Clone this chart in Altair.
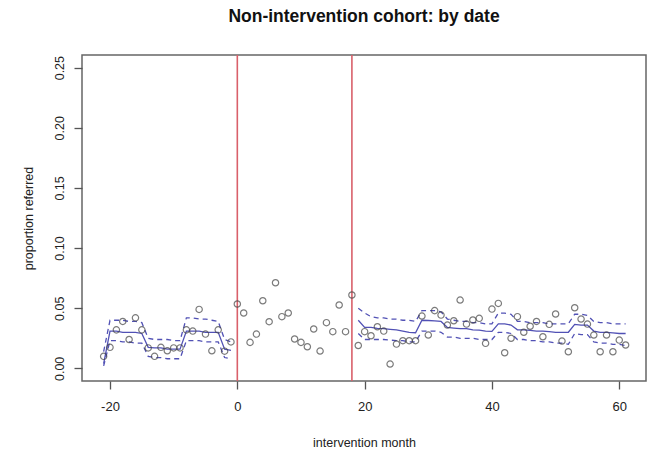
import altair as alt
import pandas as pd

# observed monthly proportions
obs_month = list(range(-21, 62))
obs_value = [
    0.010, 0.0175, 0.032, 0.039, 0.024, 0.042, 0.032, 0.017, 0.010, 0.0175,
    0.0146, 0.017, 0.017, 0.032, 0.031, 0.049, 0.0285, 0.0146, 0.032, 0.0143,
    0.022, 0.0535, 0.046, 0.0216, 0.0285, 0.0562, 0.0388, 0.0712, 0.043, 0.046,
    0.0244, 0.0216, 0.018, 0.0327, 0.0144, 0.038, 0.0305, 0.0527, 0.0305, 0.061,
    0.019, 0.0305, 0.0271, 0.0346, 0.031, 0.0036, 0.0202, 0.023, 0.023, 0.023,
    0.0435, 0.0277, 0.048, 0.0443, 0.036, 0.0396, 0.0568, 0.0368, 0.0402, 0.0416,
    0.0208, 0.0493, 0.054, 0.013, 0.025, 0.043, 0.030, 0.035, 0.039, 0.0263,
    0.0366, 0.0452, 0.0227, 0.0138, 0.0504, 0.041, 0.0368, 0.0277, 0.0138, 0.0277,
    0.0138, 0.0235, 0.0194,
]

# fitted model, pre-intervention
pre_month = list(range(-21, 0))
pre_fit = [0.004, 0.031, 0.031, 0.030, 0.030, 0.030, 0.029, 0.0175, 0.017, 0.017,
           0.016, 0.016, 0.016, 0.031, 0.031, 0.031, 0.030, 0.030, 0.030, 0.016, 0.015]
pre_upper = [0.014, 0.040, 0.040, 0.040, 0.039, 0.039, 0.038, 0.025, 0.024, 0.024,
             0.024, 0.023, 0.023, 0.042, 0.042, 0.041, 0.041, 0.040, 0.039, 0.024, 0.022]
pre_lower = [0.002, 0.023, 0.023, 0.022, 0.022, 0.021, 0.021, 0.010, 0.009, 0.009,
             0.008, 0.008, 0.008, 0.023, 0.023, 0.023, 0.022, 0.022, 0.022, 0.009, 0.008]

# fitted model, post-intervention
post_month = list(range(19, 62))
post_fit = [0.040, 0.034, 0.034, 0.0333, 0.033, 0.0325, 0.032, 0.031, 0.030, 0.0296,
            0.040, 0.0398, 0.0395, 0.039, 0.034, 0.0335, 0.033, 0.033, 0.032, 0.0318,
            0.031, 0.0307, 0.037, 0.037, 0.036, 0.032, 0.032, 0.0315, 0.031, 0.031,
            0.0305, 0.030, 0.030, 0.030, 0.0366, 0.036, 0.036, 0.031, 0.030, 0.030,
            0.0295, 0.029, 0.029]
post_upper = [0.050, 0.046, 0.043, 0.042, 0.042, 0.041, 0.041, 0.040, 0.040, 0.039,
              0.048, 0.048, 0.048, 0.047, 0.041, 0.040, 0.039, 0.039, 0.038, 0.038,
              0.037, 0.037, 0.046, 0.046, 0.045, 0.039, 0.039, 0.038, 0.038, 0.038,
              0.037, 0.037, 0.037, 0.037, 0.045, 0.045, 0.044, 0.039, 0.038, 0.038,
              0.037, 0.037, 0.037]
post_lower = [0.029, 0.024, 0.024, 0.024, 0.024, 0.0235, 0.023, 0.023, 0.022, 0.022,
              0.031, 0.031, 0.031, 0.030, 0.026, 0.026, 0.025, 0.025, 0.025, 0.024,
              0.024, 0.024, 0.030, 0.030, 0.029, 0.024, 0.024, 0.023, 0.023, 0.022,
              0.022, 0.021, 0.021, 0.020, 0.029, 0.028, 0.028, 0.022, 0.021, 0.021,
              0.020, 0.020, 0.019]

intervention_lines = [0, 18]

x_ticks = [-20, 0, 20, 40, 60]
y_ticks = [0.00, 0.05, 0.10, 0.15, 0.20, 0.25]

obs_df = pd.DataFrame({"month": obs_month, "value": obs_value})
fit_rows = []
for seg, months, fit, up, lo in [("pre", pre_month, pre_fit, pre_upper, pre_lower),
                                 ("post", post_month, post_fit, post_upper, post_lower)]:
    for m, f, u, l in zip(months, fit, up, lo):
        fit_rows.append({"month": m, "seg": seg, "kind": "fit", "v": f})
        fit_rows.append({"month": m, "seg": seg, "kind": "upper", "v": u})
        fit_rows.append({"month": m, "seg": seg, "kind": "lower", "v": l})
fit_df = pd.DataFrame(fit_rows)
fit_df["key"] = fit_df["seg"] + "_" + fit_df["kind"]
vline_df = pd.DataFrame({"month": intervention_lines})

FONT = "Liberation Sans"
W, H = 564, 326

xscale = alt.Scale(domain=[-24.4, 64.2], nice=False, zero=False)
yscale = alt.Scale(domain=[-0.0105, 0.2605], nice=False, zero=False)

xaxis = alt.Axis(values=x_ticks, title="intervention month", domain=False, grid=False,
                 tickSize=8, tickColor="#555555", tickWidth=1.3,
                 labelExpr="'' + datum.value",
                 labelFont=FONT, labelFontSize=13, labelColor="#222222", labelPadding=11,
                 labelFlush=False,
                 titleFont=FONT, titleFontSize=12.5, titleFontWeight="normal",
                 titleColor="#222222", titleY=61, titleBaseline="middle")
yaxis = alt.Axis(values=y_ticks, format=".2f", title="proportion referred", domain=False,
                 grid=False, tickSize=8, tickColor="#555555", tickWidth=1.3,
                 labelFont=FONT, labelFontSize=12.5, labelColor="#222222", labelPadding=8,
                 labelAngle=270, labelAlign="center", labelBaseline="bottom",
                 labelFlush=False,
                 titleFont=FONT, titleFontSize=12.5, titleFontWeight="normal",
                 titleColor="#222222", titleAngle=270, titleX=-54, titleY=H / 2,
                 titleAlign="center", titleBaseline="middle")

base_x = alt.X("month:Q", scale=xscale, axis=xaxis)

vlines = alt.Chart(vline_df).mark_rule(color="#d9606a", strokeWidth=1.6).encode(
    x=alt.X("month:Q", scale=xscale, axis=xaxis)
)

fit_line = alt.Chart(fit_df).transform_filter(alt.datum.kind == "fit").mark_line(
    color="#5151b5", strokeWidth=1.3
).encode(
    x=base_x,
    y=alt.Y("v:Q", scale=yscale, axis=yaxis),
    detail="key:N",
    order="month:Q",
)

band_lines = alt.Chart(fit_df).transform_filter(alt.datum.kind != "fit").mark_line(
    color="#5151b5", strokeWidth=1.3, strokeDash=[5, 4]
).encode(
    x=base_x,
    y=alt.Y("v:Q", scale=yscale, axis=yaxis),
    detail="key:N",
    order="month:Q",
)

points = alt.Chart(obs_df).mark_point(
    shape="circle", filled=False, color="#444444", size=40, strokeWidth=1.2
).encode(
    x=base_x,
    y=alt.Y("value:Q", scale=yscale, axis=yaxis),
)

chart = alt.layer(vlines, band_lines, fit_line, points).properties(
    width=W, height=H,
    title=alt.TitleParams("Non-intervention cohort: by date", font=FONT, fontSize=17.5,
                          fontWeight="bold", color="#111111", anchor="middle",
                          offset=29),
    padding={"left": 82, "top": 55, "right": 3, "bottom": 76},
    autosize=alt.AutoSizeParams(type="none"),
    background="white",
).configure_view(stroke="#666666", strokeWidth=1.5)

chart.save("out.html", embed_options={"renderer": "svg", "actions": False})
